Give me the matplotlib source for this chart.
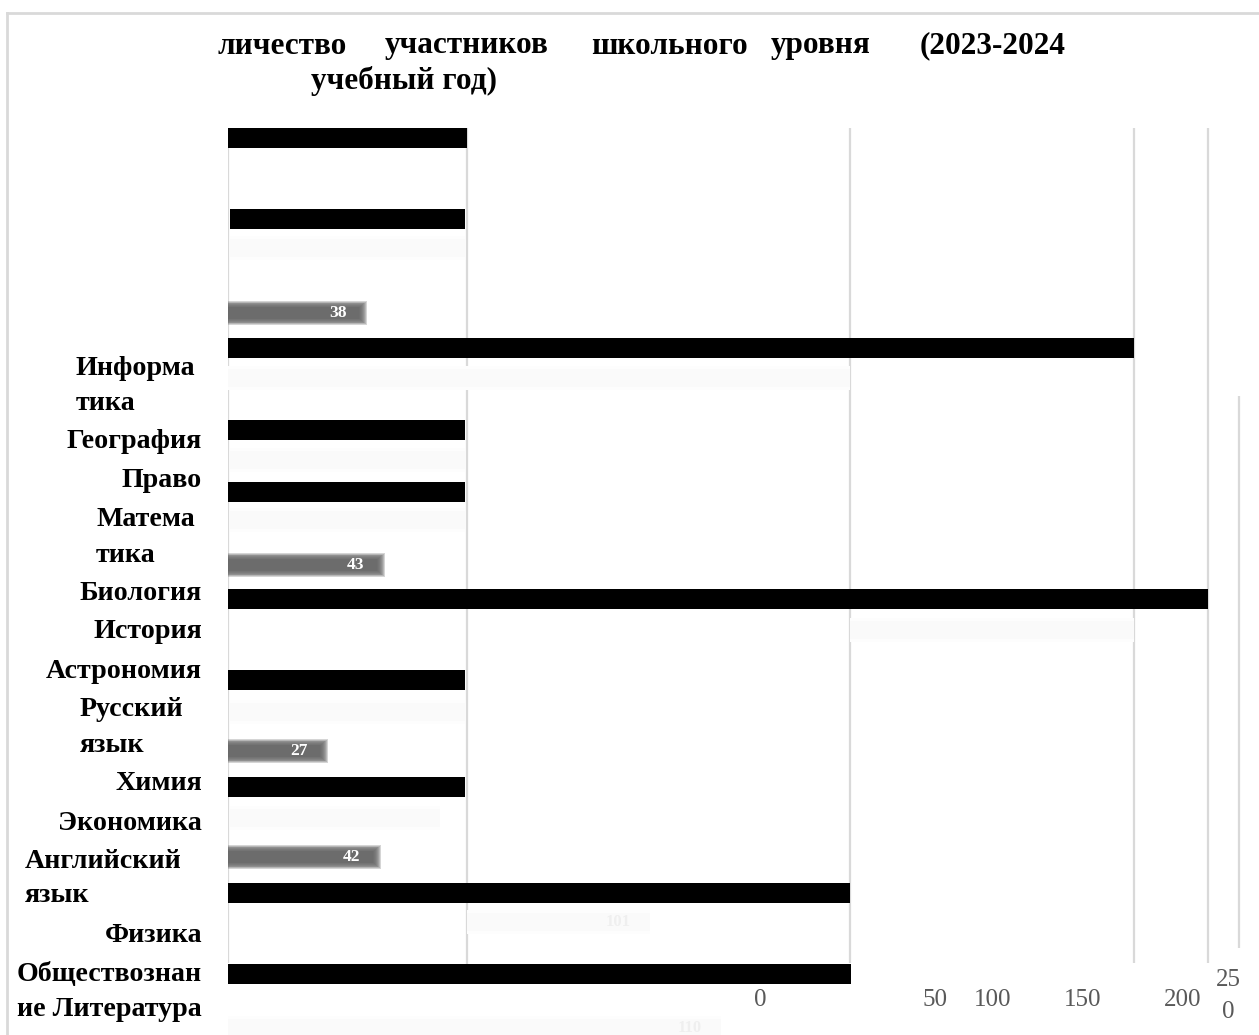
import matplotlib
matplotlib.use("Agg")
from matplotlib import pyplot as plt
from matplotlib.lines import Line2D

W, H = 1259, 1035
PX_PER_UNIT = 3.52

# category lines as they are wrapped in the source picture
label_lines = ["Информа", "тика", "География", "Право", "Матема", "тика",
               "Биология", "История", "Астрономия", "Русский", "язык",
               "Химия", "Экономика", "Английский", "язык", "Физика",
               "Обществознан", "ие Литература"]

# solid black bars
black_values = [68.8, 66.8, 257.4, 67.3, 67.3, 278.4, 67.3, 67.3, 176.7, 178.7]
black_left = [-0.9, 0.6, 0.0, 0.0, 0.0, 0.0, 0.0, 0.0, 0.0, -1.7]

# grey (blurred) bars with value labels
grey_values = [38, 43, 27, 42]

# almost invisible bars
faint_values = [66.8, 108.8, 80.7, 66.8, 66.8, 80.7, 66.8, 59.7, 52.0, 140.0]
faint_left = [0.6, 67.9, 0.0, 0.6, 0.6, 176.7, 0.6, 0.6, 67.9, 0.0]
faint_labels = ["", "", "", "", "", "", "", "", "101", "110"]

tick_labels = ["0", "50", "100", "150", "200", "25\n0"]

# ---- layout (pixels from the top of the picture) ----
label_x = [76, 76, 202, 202, 96, 96, 202, 202, 202, 80, 80, 202, 202, 25, 25,
           202, 202, 202]
label_ha = ["left", "left", "right", "right", "left", "left", "right", "right",
            "right", "left", "left", "right", "right", "left", "left", "right",
            "right", "right"]
label_y = [368, 404, 441, 480, 519, 556, 593, 632, 671, 710, 746, 784, 823,
           861, 896, 936, 974, 1009]
black_rows = [138, 219, 348, 430, 492, 599, 680, 787, 893, 974]
grey_rows = [313, 565, 751, 857]
faint_rows = [248, 378, 378, 460, 520, 630, 712, 818, 922, 1028]
tick_x = [151.1, 200.9, 217.3, 242.9, 271.3, 284.1]
grid_x = [0, 67.9, 176.7, 257.4, 278.4, 287.2]
grid_top = [128, 128, 128, 128, 128, 396]
grid_bottom = [963, 965, 963, 963, 963, 948]

SERIF = ["Liberation Serif", "DejaVu Serif"]

fig = plt.figure(figsize=(W / 100, H / 100), dpi=100)
fig.patch.set_facecolor("white")


def fx(x):
    return x / W


def fy(y):
    return 1 - y / H


# outer frame (only top and left edges are visible)
fig.add_artist(Line2D([fx(7), fx(W + 5)], [fy(13), fy(13)], color="#d9d9d9",
                      lw=2))
fig.add_artist(Line2D([fx(7), fx(7)], [fy(13), fy(H + 5)], color="#d9d9d9",
                      lw=2))

# title, justified over the line
title_words = ["личество", "участников", "школьного", "уровня", "(2023-2024"]
title_x = [218, 385, 591, 771, 920]
for word, x in zip(title_words, title_x):
    fig.text(fx(x), fy(46), word, family=SERIF, weight="bold", fontsize=22.5,
             ha="left", va="center")
fig.text(fx(311), fy(81), "учебный год)", family=SERIF, weight="bold",
         fontsize=22.5, ha="left", va="center")

for text, x, y, ha in zip(label_lines, label_x, label_y, label_ha):
    fig.text(fx(x), fy(y), text, family=SERIF, weight="bold", fontsize=20.2,
             ha=ha, va="center")

ax = fig.add_axes([fx(228), 0, 1 - fx(228), 1])
ax.set_xlim(0, (W - 228) / PX_PER_UNIT)
ax.set_ylim(H, 0)
ax.axis("off")

ax.vlines(grid_x, grid_top, grid_bottom, colors="#d9d9d9", lw=1.6, zorder=1)

# faint bars
ax.barh(faint_rows, faint_values, left=faint_left, height=24, color="#fdfdfd",
        zorder=2)
ax.barh(faint_rows, faint_values, left=faint_left, height=18, color="#fafafa",
        zorder=2)
for y, v, l, t in zip(faint_rows, faint_values, faint_left, faint_labels):
    if t:
        ax.text(l + v - 5.5, y, t, family=SERIF, weight="bold", fontsize=12,
                color="#efefef", ha="right", va="center", zorder=3)

# grey bars, stacked translucent layers give a blurred look
for k in range(9):
    h = 24 - 1.6 * k
    pad = 1.5 - 0.28 * k
    ax.barh(grey_rows, [v + pad for v in grey_values], height=h,
            color="#646464", alpha=0.27, linewidth=0, zorder=3)
for y, v in zip(grey_rows, grey_values):
    ax.text(v - 4.3, y, str(v), family=SERIF, weight="bold", fontsize=12.5,
            color="white", ha="right", va="center", zorder=4)

ax.barh(black_rows, black_values, left=black_left, height=20, color="black",
        zorder=5)

for x, t in zip(tick_x, tick_labels):
    ax.text(x, 1000 if "\n" not in t else 996, t, family=SERIF, fontsize=18,
            color="#595959", ha="center", va="center", linespacing=1.55)

fig.savefig("out.png", dpi=100, facecolor="white")
